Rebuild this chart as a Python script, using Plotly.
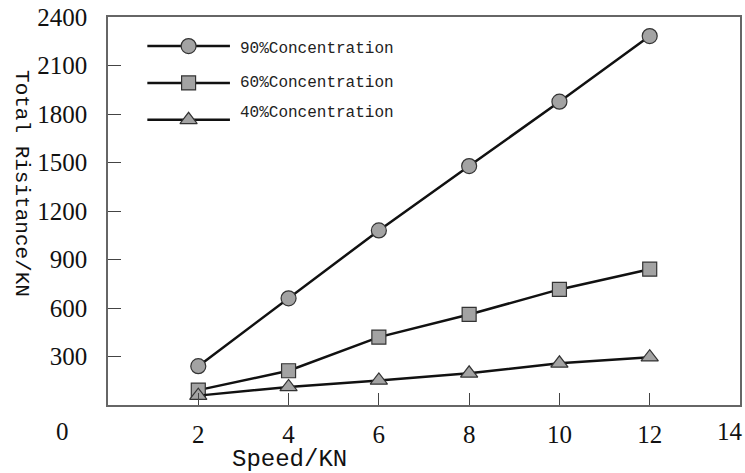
import plotly.graph_objects as go

speed = [2, 4, 6, 8, 10, 12]
conc90 = [240, 660, 1080, 1478, 1876, 2282]
conc60 = [92, 212, 420, 560, 715, 840]
conc40 = [58, 112, 152, 196, 258, 296]

series_names = ["90%Concentration", "60%Concentration", "40%Concentration"]
series_values = [conc90, conc60, conc40]
symbols = ["circle", "square", "triangle-up"]
sizes = [15, 14, 15]

x_ticks = [2, 4, 6, 8, 10, 12]
x_end_label = "14"
y_ticks = [300, 600, 900, 1200, 1500, 1800, 2100, 2400]

fig = go.Figure()
for name, vals, sym, sz in zip(series_names, series_values, symbols, sizes):
    fig.add_trace(go.Scatter(
        x=speed, y=vals, mode="lines+markers", name=name,
        line=dict(color="#111111", width=2.5),
        marker=dict(symbol=sym, size=sz, color="#a3a3a3",
                    line=dict(color="#333333", width=1.2)),
        showlegend=False,
    ))

# custom legend (line samples + markers on an overlay axis, text as annotations)
leg_y = [0.925, 0.83, 0.735]
leg_text_y = [0.917, 0.83, 0.752]
for name, sym, sz, ly, ty in zip(series_names, symbols, sizes, leg_y, leg_text_y):
    fig.add_trace(go.Scatter(
        x=[0.0, 0.5, 1.0], y=[ly, ly, ly], xaxis="x2", yaxis="y2",
        mode="lines", line=dict(color="#111111", width=2.5),
        showlegend=False, hoverinfo="skip",
    ))
    fig.add_trace(go.Scatter(
        x=[0.5], y=[ly], xaxis="x2", yaxis="y2", mode="markers",
        marker=dict(symbol=sym, size=sz, color="#a3a3a3",
                    line=dict(color="#333333", width=1.2)),
        showlegend=False, hoverinfo="skip",
    ))
    fig.add_annotation(
        text=name, xref="paper", yref="paper", x=0.206, y=ty,
        xanchor="left", yanchor="middle", showarrow=False,
        font=dict(family="Liberation Mono", size=16, color="#222222"),
    )

axis_font = dict(family="Liberation Serif", size=25, color="#111111")

fig.update_layout(
    width=745, height=473,
    margin=dict(l=108, r=5, t=17, b=68, autoexpand=False),
    paper_bgcolor="white", plot_bgcolor="rgba(0,0,0,0)",
    xaxis=dict(
        range=[0, 14], tickvals=x_ticks, ticktext=[str(v) for v in x_ticks],
        ticks="inside", ticklen=12, tickwidth=1, tickcolor="#444444",
        showline=True, linecolor="#666666", linewidth=1.5, mirror=True,
        showgrid=False, zeroline=False, tickfont=axis_font, ticklabelstandoff=6,
        automargin=False, ticklabeloverflow="allow",
    ),
    yaxis=dict(
        range=[0, 2400], tickvals=y_ticks, ticktext=[str(v) for v in y_ticks],
        ticks="inside", ticklen=13, tickwidth=1, tickcolor="#444444",
        showline=True, linecolor="#666666", linewidth=1.5, mirror=True,
        showgrid=False, zeroline=False, tickfont=axis_font, ticklabelstandoff=14,
        automargin=False, ticklabeloverflow="allow",
    ),
    xaxis2=dict(domain=[0.062, 0.193], range=[0, 1], visible=False,
                anchor="y2", fixedrange=True),
    yaxis2=dict(domain=[0, 1], range=[0, 1], visible=False,
                anchor="x2", fixedrange=True),
)

fig.add_annotation(text="0", xref="paper", yref="paper", x=-0.072, y=-0.068,
                   xanchor="center", yanchor="middle", showarrow=False,
                   font=axis_font)
fig.add_annotation(text=x_end_label, xref="paper", yref="paper", x=1.0, y=-0.068,
                   xanchor="right", yanchor="middle", xshift=5, showarrow=False,
                   font=axis_font)
fig.add_annotation(text="Speed/KN", xref="paper", yref="paper", x=0.287, y=-0.14,
                   xanchor="center", yanchor="middle", showarrow=False,
                   font=dict(family="Liberation Mono", size=24, color="#111111"))
fig.add_annotation(text="Total Risitance/KN", xref="paper", yref="paper",
                   x=-0.138, y=0.57, textangle=90,
                   xanchor="center", yanchor="middle", showarrow=False,
                   font=dict(family="Liberation Mono", size=21, color="#111111"))

fig.write_html(
    "out.html",
    config={"displayModeBar": False},
    post_script="document.body.style.margin='0px';document.body.style.overflow='hidden';",
)
